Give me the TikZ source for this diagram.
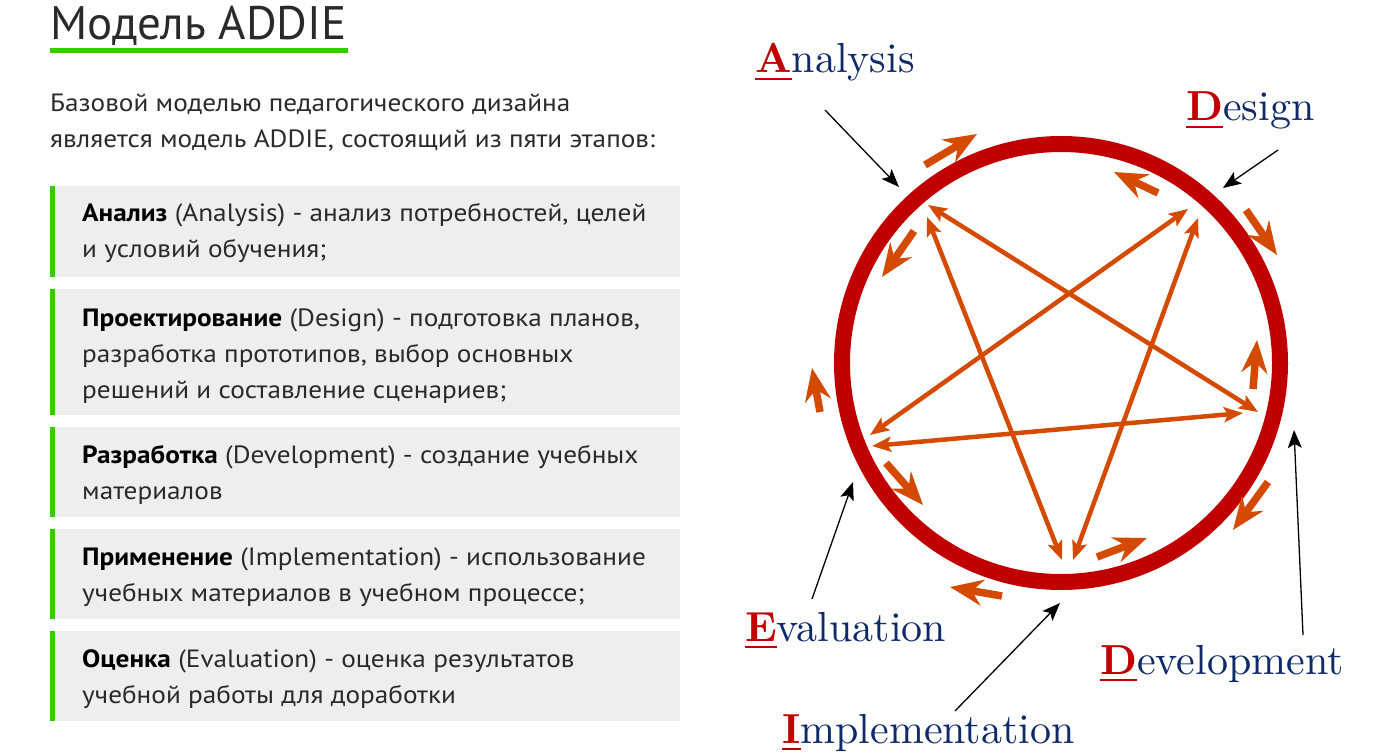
\documentclass[tikz,border=0pt]{standalone}
\usepackage{fontspec}
\usetikzlibrary{arrows.meta}
\newfontfamily\bodyfont{PT Sans}[FakeStretch=1.09]
\newfontfamily\titlefont{PT Sans}
\newfontfamily\labelfont{lmroman10-regular.otf}[BoldFont=lmroman10-bold.otf]

\definecolor{ringred}{HTML}{C00000}
\definecolor{starorange}{HTML}{D44A00}
\definecolor{navy}{HTML}{0E2A68}
\definecolor{barGreen}{HTML}{33CC00}
\definecolor{boxgray}{HTML}{EEEEEE}
\definecolor{txt}{HTML}{2A2A2A}

% red, bold, underlined initial of a stage name
\newcommand\stageinitial[1]{\textcolor{ringred}{\setbox0\hbox{\bfseries #1}\rlap{\rule[-7pt]{\wd0}{2pt}}\box0}}

\tikzset{
  bodyline/.style={anchor=base west, inner sep=0pt, text=txt,
    font=\bodyfont\fontsize{25}{30}\selectfont},
  stagelabel/.style={anchor=base west, inner sep=0pt, text=navy,
    font=\labelfont\fontsize{42}{50}\selectfont},
  starline/.style={draw=starorange, line width=4.5pt,
    {Stealth[length=19pt,width=15pt,inset=4pt]}-{Stealth[length=19pt,width=15pt,inset=4pt]}},
  fatarrow/.style={draw=starorange, line width=7.5pt,
    -{Stealth[length=33pt,width=26pt,inset=11pt]}},
  pointer/.style={draw=black, line width=1.3pt,
    -{Stealth[length=18pt,width=14pt,inset=4pt]}},
  stagebox/.style={fill=boxgray},
  stagebar/.style={fill=barGreen}
}

\begin{document}
\begin{tikzpicture}[x=1pt,y=-1pt]
\useasboundingbox (0,0) rectangle (1400,754);

% ---------- heading and intro ----------
\node[anchor=base west, inner sep=0pt, text=txt,
  font=\titlefont\fontsize{47}{54}\selectfont] (title) at (50,40) {Модель ADDIE};
\fill[barGreen] (50,48.5) rectangle (348,53);
\node[bodyline] (p1) at (50,112) {Базовой моделью педагогического дизайна};
\node[bodyline] (p2) at (50,148) {является модель ADDIE, состоящий из пяти этапов:};

% ---------- stage boxes ----------
\fill[stagebox] (50,186) rectangle (680,277);
\fill[stagebar] (50,186) rectangle (54.5,277);
\node[bodyline] (b1a) at (82,222) {\textcolor{black}{\textbf{Анализ}} (Analysis) - анализ потребностей, целей};
\node[bodyline] (b1b) at (82,258) {и условий обучения;};

\fill[stagebox] (50,289) rectangle (680,415);
\fill[stagebar] (50,289) rectangle (54.5,415);
\node[bodyline] (b2a) at (82,326) {\textcolor{black}{\textbf{Проектирование}} (Design) - подготовка планов,};
\node[bodyline] (b2b) at (82,362) {разработка прототипов, выбор основных};
\node[bodyline] (b2c) at (82,398) {решений и составление сценариев;};

\fill[stagebox] (50,427) rectangle (680,517);
\fill[stagebar] (50,427) rectangle (54.5,517);
\node[bodyline] (b3a) at (82,463) {\textcolor{black}{\textbf{Разработка}} (Development) - создание учебных};
\node[bodyline] (b3b) at (82,499) {материалов};

\fill[stagebox] (50,529) rectangle (680,619);
\fill[stagebar] (50,529) rectangle (54.5,619);
\node[bodyline] (b4a) at (82,565) {\textcolor{black}{\textbf{Применение}} (Implementation) - использование};
\node[bodyline] (b4b) at (82,601) {учебных материалов в учебном процессе;};

\fill[stagebox] (50,631) rectangle (680,721);
\fill[stagebar] (50,631) rectangle (54.5,721);
\node[bodyline] (b5a) at (82,667) {\textcolor{black}{\textbf{Оценка}} (Evaluation) - оценка результатов};
\node[bodyline] (b5b) at (82,703) {учебной работы для доработки};

% ---------- cycle ring ----------
\draw[ringred, line width=16pt] (1061,363) circle[radius=219];

% ---------- pentagram of links ----------
\coordinate (A1) at (928,205);   \coordinate (A2) at (927,217);
\coordinate (D1) at (1188,209);  \coordinate (D2) at (1198,218);
\coordinate (V1) at (1258,412);  \coordinate (V2) at (1243,413);
\coordinate (I1) at (1062,560);  \coordinate (I2) at (1073,560);
\coordinate (E1) at (870,435);   \coordinate (E2) at (872,446);
\draw[starline] (A1) -- (V1);
\draw[starline] (A2) -- (I1);
\draw[starline] (D1) -- (E1);
\draw[starline] (D2) -- (I2);
\draw[starline] (E2) -- (V2);

% ---------- short arrows around the ring ----------
\coordinate (f1s) at (925,165);  \coordinate (f1e) at (977,134);
\coordinate (f2s) at (1158,193); \coordinate (f2e) at (1114,172);
\coordinate (f3s) at (1246,210); \coordinate (f3e) at (1277,255);
\coordinate (f4s) at (914,231);  \coordinate (f4e) at (882,277);
\coordinate (f5s) at (1253,389); \coordinate (f5e) at (1257,340);
\coordinate (f6s) at (820,412);  \coordinate (f6e) at (812,368);
\coordinate (f7s) at (886,463);  \coordinate (f7e) at (923,505);
\coordinate (f8s) at (1097,557); \coordinate (f8e) at (1147,538);
\coordinate (f9s) at (1002,596); \coordinate (f9e) at (950,587);
\coordinate (f10s) at (1268,482); \coordinate (f10e) at (1233,530);
\foreach \k in {1,...,10} \draw[fatarrow] (f\k s) -- (f\k e);

% ---------- stage labels ----------
\node[stagelabel] (lA) at (755,73)   {\stageinitial{A}nalysis};
\node[stagelabel] (lD) at (1186,121) {\stageinitial{D}esign};
\node[stagelabel] (lE) at (745,641)  {\stageinitial{E}valuation};
\node[stagelabel] (lV) at (1100,674) {\stageinitial{D}evelopment};
\node[stagelabel] (lI) at (782,743)  {\stageinitial{I}mplementation};

% ---------- pointers from labels to the ring ----------
\coordinate (pAs) at (825,110);  \coordinate (pAe) at (899,187);
\coordinate (pDs) at (1278,150); \coordinate (pDe) at (1223,188);
\coordinate (pEs) at (812,599);  \coordinate (pEe) at (853,482);
\coordinate (pIs) at (955,711);  \coordinate (pIe) at (1060,603);
\coordinate (pVs) at (1303,635); \coordinate (pVe) at (1294,430);
\draw[pointer] (pAs) -- (pAe);
\draw[pointer] (pDs) -- (pDe);
\draw[pointer] (pEs) -- (pEe);
\draw[pointer] (pIs) -- (pIe);
\draw[pointer] (pVs) -- (pVe);
\end{tikzpicture}
\end{document}
